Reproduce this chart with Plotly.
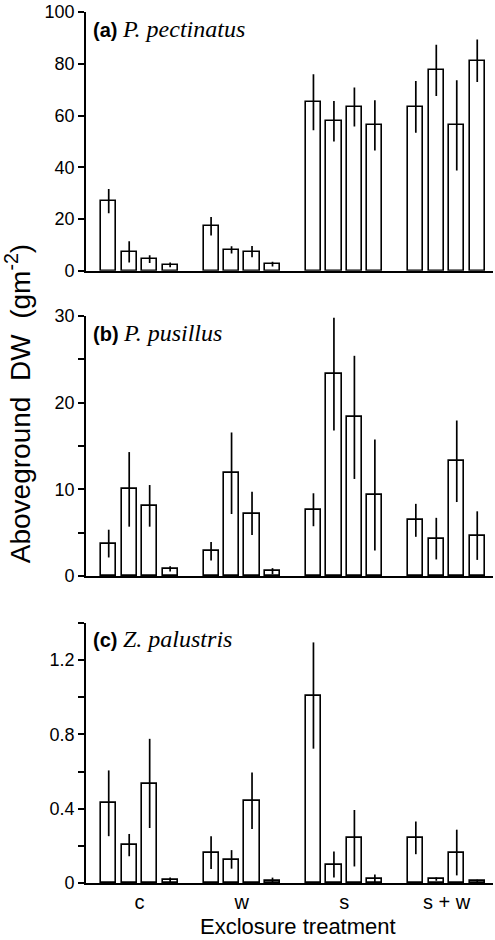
import plotly.graph_objects as go

# ---- data ----
groups = ["c", "w", "s", "s + w"]
n_bars = 4

pect_vals = [26.9, 7.3, 4.5, 2.3, 17.2, 8.1, 7.4, 2.6, 65.1, 57.8, 63.3, 56.2, 63.3, 77.4, 56.2, 81.2]
pect_err = [4.7, 4.1, 1.5, 0.9, 3.6, 1.4, 2.2, 0.9, 10.8, 7.8, 7.5, 9.7, 10.0, 9.9, 17.4, 8.2]

pusi_vals = [3.75, 10.0, 8.1, 0.84, 2.87, 11.86, 7.23, 0.57, 7.65, 23.3, 18.3, 9.34, 6.43, 4.32, 13.24, 4.67]
pusi_err = [1.6, 4.3, 2.4, 0.3, 1.07, 4.7, 2.5, 0.35, 1.9, 6.5, 7.1, 6.4, 1.9, 2.4, 4.7, 2.8]

palu_vals = [0.429, 0.204, 0.536, 0.016, 0.164, 0.127, 0.443, 0.011, 1.009, 0.100, 0.241, 0.020, 0.243, 0.021, 0.164, 0.009]
palu_err = [0.177, 0.06, 0.24, 0.014, 0.088, 0.05, 0.152, 0.018, 0.286, 0.07, 0.152, 0.026, 0.088, 0.009, 0.123, 0.009]

panel_tags = ["(a)", "(b)", "(c)"]
species = ["P. pectinatus", "P. pusillus", "Z. palustris"]
y_ranges = [[0, 100], [0, 30], [0, 1.4]]
y_tickvals = [[0, 20, 40, 60, 80, 100], [0, 10, 20, 30], [0, 0.4, 0.8, 1.2]]
y_ticktext = [["0", "20", "40", "60", "80", "100"], ["0", "10", "20", "30"], ["0", "0.4", "0.8", "1.2"]]
y_minor = [None, 5, 0.2]

# slot positions: 4 bars + 1 gap per group
xpos = [5 * g + i for g in range(len(groups)) for i in range(n_bars)]
group_centers = [5 * g + 1.5 for g in range(len(groups))]

W, H = 495, 940
ml, mr, mt, mb = 86, 2, 8, 57
ph = H - mt - mb
pw = W - ml - mr

def frac(ypx):
    return (H - mb - ypx) / ph

domains = [[frac(268), 1.0], [frac(574.7), frac(313.3)], [0.0, frac(621.7)]]

sans = "Liberation Sans, Arial, sans-serif"
serif = "Liberation Serif, Times New Roman, serif"

fig = go.Figure()
data = [(pect_vals, pect_err), (pusi_vals, pusi_err), (palu_vals, palu_err)]
for k, (vals, errs) in enumerate(data):
    ax = "" if k == 0 else str(k + 1)
    fig.add_trace(go.Bar(
        x=xpos, y=vals,
        error_y=dict(type="data", array=errs, visible=True, color="black", thickness=1.7, width=0),
        marker=dict(color="white", line=dict(color="black", width=1.6)),
        width=0.74,
        xaxis="x" + ax, yaxis="y" + ax,
        showlegend=False, hoverinfo="skip",
    ))

layout = dict(
    width=W, height=H,
    margin=dict(l=ml, r=mr, t=mt, b=mb),
    plot_bgcolor="white", paper_bgcolor="white",
    font=dict(family=sans, color="black", size=18),
    bargap=0,
)

for k in range(3):
    ax = "" if k == 0 else str(k + 1)
    xa = dict(
        domain=[0, 1], range=[-1.11, 18.77], anchor="y" + ax,
        showline=True, linecolor="black", linewidth=1.8,
        showgrid=False, zeroline=False, ticks="",
        tickvals=group_centers, ticktext=groups,
        showticklabels=(k == 2), tickfont=dict(size=20),
    )
    ya = dict(
        domain=domains[k], range=y_ranges[k], anchor="x" + ax,
        showline=True, linecolor="black", linewidth=1.8,
        showgrid=False, zeroline=False,
        ticks="outside", ticklen=6, tickwidth=1.6, tickcolor="black",
        tickvals=y_tickvals[k], ticktext=y_ticktext[k], tickfont=dict(size=18),
    )
    if y_minor[k] is not None:
        ya["minor"] = dict(dtick=y_minor[k], ticks="outside", ticklen=6, tickwidth=1.6,
                           tickcolor="black", showgrid=False)
    layout["xaxis" + ax] = xa
    layout["yaxis" + ax] = ya

fig.update_layout(**layout)

label_y = [25, 330, 638]
for k in range(3):
    fig.add_annotation(
        xref="paper", yref="paper", x=(91 - ml) / pw, y=frac(label_y[k]),
        xanchor="left", yanchor="middle", showarrow=False,
        text=("<b>%s</b>\u00a0<span style='font-family:Liberation Serif;font-size:24px'><i>%s</i></span>")
             % (panel_tags[k], species[k]),
        font=dict(size=20, family=sans),
    )

fig.add_annotation(
    xref="paper", yref="paper", x=(298 - ml) / pw, y=frac(927),
    xanchor="center", yanchor="middle", showarrow=False,
    text="Exclosure treatment", font=dict(size=22, family=sans),
)
fig.add_annotation(
    xref="paper", yref="paper", x=(18 - ml) / pw, y=frac(402),
    xanchor="center", yanchor="middle", showarrow=False, textangle=-90,
    text="Aboveground\u00a0\u00a0DW\u00a0\u00a0(gm<sup>-2</sup>)", font=dict(size=28, family=sans),
)

fig.write_html("out.html", config={"displayModeBar": False},
               post_script="document.body.style.margin='0';document.body.style.padding='0';")
